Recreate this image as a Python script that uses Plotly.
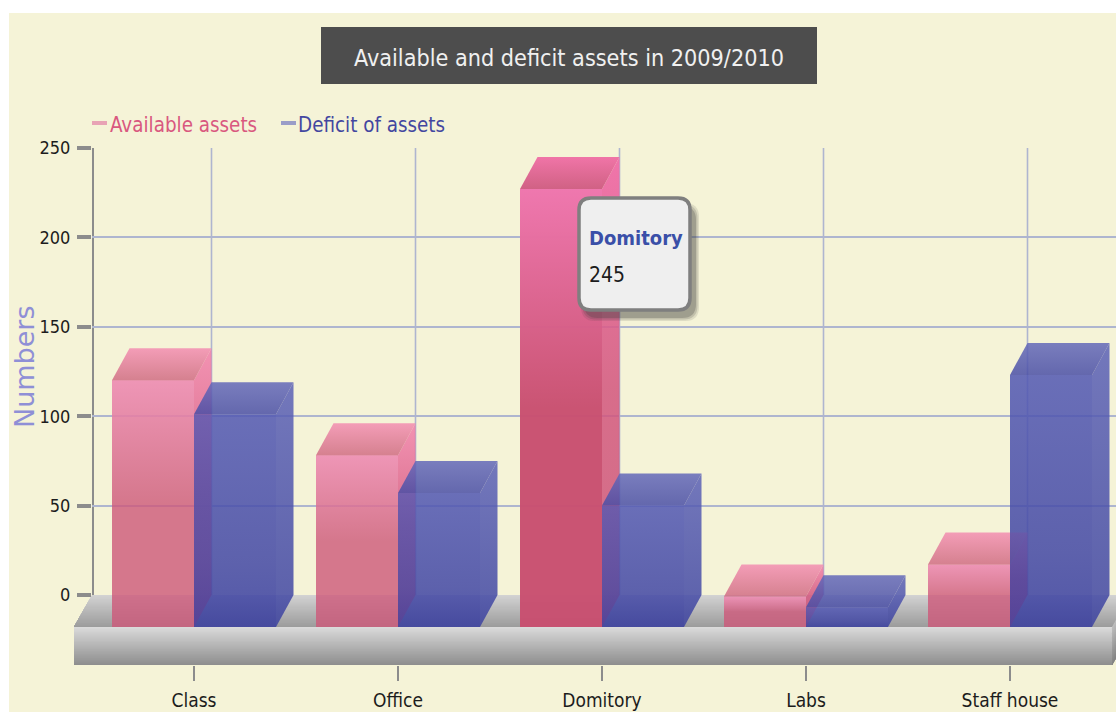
import plotly.graph_objects as go

categories = ["Class", "Office", "Domitory", "Labs", "Staff house"]
available = [138, 96, 245, 17, 35]
deficit = [119, 75, 68, 11, 141]
y_ticks = [0, 50, 100, 150, 200, 250]
TITLE = "Available and deficit assets in 2009/2010"
NARROW = "DejaVu Sans Condensed"

# layout geometry
W, H = 1116, 712
L, R, T, B = 92, 1116, 148, 665          # plot box in page pixels
XR = [-0.5, (1116 - 194) / 204]
YR = [-39.15, 250]
BW = 82 / 204
DX = 17.5 / 204
DY = 32 / 1.788

def fx(x):
    return (x - XR[0]) / (XR[1] - XR[0])
def fy(y):
    return (y - YR[0]) / (YR[1] - YR[0])
def px(p):
    return (p - L) / (R - L)
def py(p):
    return (B - p) / (B - T)

shapes = []
# page background
shapes.append(dict(type="rect", xref="paper", yref="paper", layer="below",
                   x0=px(9), x1=px(1130), y0=py(13), y1=py(730),
                   fillcolor="#f5f3d7", line_width=0))
# title box
shapes.append(dict(type="rect", xref="paper", yref="paper", layer="below",
                   x0=px(321), x1=px(817), y0=py(27), y1=py(84),
                   fillcolor="#4d4d4d", line_width=0))
# legend swatches
shapes.append(dict(type="line", xref="paper", yref="paper", layer="below",
                   x0=px(92), x1=px(107), y0=py(123), y1=py(123),
                   line=dict(color="#e8a3b5", width=4)))
shapes.append(dict(type="line", xref="paper", yref="paper", layer="below",
                   x0=px(281), x1=px(296), y0=py(123), y1=py(123),
                   line=dict(color="#9a9dc8", width=4)))

# floor drawn as overlapping gradient strips, back to front
def mix(a, b, t):
    return "rgb(%d,%d,%d)" % tuple(a[i] + (b[i] - a[i]) * t for i in range(3))
LEFT_F, RIGHT_F = (74 - 194) / 204, (1112 - 194) / 204
N = 30
for i in range(N):
    t0 = i / N
    y0 = -DY * t0
    xl0 = XR[0] + (LEFT_F - XR[0]) * t0
    xr0 = RIGHT_F + DX * (1 - t0)
    path = f"M{fx(xl0)},{fy(y0)} L{fx(xr0)},{fy(y0)} L{fx(RIGHT_F)},{fy(-DY)} L{fx(LEFT_F)},{fy(-DY)} Z"
    shapes.append(dict(type="path", xref="paper", yref="paper", layer="below", path=path,
                       fillcolor=mix((210, 210, 210), (155, 155, 155), t0), line_width=0))
for i in range(N):
    t0 = i / N
    ya = -DY + (YR[0] + DY) * t0
    yb = YR[0]
    shapes.append(dict(type="rect", xref="paper", yref="paper", layer="below",
                       x0=fx(LEFT_F), x1=fx(RIGHT_F), y0=fy(ya), y1=fy(yb),
                       fillcolor=mix((218, 218, 218), (140, 140, 140), t0), line_width=0))
    path = f"M{fx(RIGHT_F)},{fy(ya)} L{fx(RIGHT_F + DX)},{fy(ya + DY)} L{fx(RIGHT_F + DX)},{fy(yb + DY)} L{fx(RIGHT_F)},{fy(yb)} Z"
    shapes.append(dict(type="path", xref="paper", yref="paper", layer="below", path=path,
                       fillcolor=mix((190, 190, 190), (130, 130, 130), t0), line_width=0))

# back-wall vertical grid lines and the value-axis spine
for i in range(len(categories)):
    shapes.append(dict(type="line", xref="x", yref="y", layer="below",
                       x0=i + DX, x1=i + DX, y0=0, y1=y_ticks[-1],
                       line=dict(color="#aeb5cf", width=1.6)))
shapes.append(dict(type="line", xref="x", yref="y", layer="below",
                   x0=XR[0], x1=XR[0], y0=0, y1=y_ticks[-1],
                   line=dict(color="#8c8c8c", width=4)))

# tooltip
def rounded(x0, y0, x1, y1, r):
    return (f"M{px(x0 + r)},{py(y0)} L{px(x1 - r)},{py(y0)} Q{px(x1)},{py(y0)} {px(x1)},{py(y0 + r)} "
            f"L{px(x1)},{py(y1 - r)} Q{px(x1)},{py(y1)} {px(x1 - r)},{py(y1)} "
            f"L{px(x0 + r)},{py(y1)} Q{px(x0)},{py(y1)} {px(x0)},{py(y1 - r)} "
            f"L{px(x0)},{py(y0 + r)} Q{px(x0)},{py(y0)} {px(x0 + r)},{py(y0)} Z")
for grow, alpha in ((3, 0.12), (1.5, 0.18), (0, 0.25)):
    shapes.append(dict(type="path", xref="paper", yref="paper", layer="above",
                       path=rounded(584 - grow, 206 - grow, 696 + grow, 318 + grow, 14),
                       fillcolor=f"rgba(60,60,60,{alpha})", line_width=0))
shapes.append(dict(type="path", xref="paper", yref="paper", layer="above",
                   path=rounded(579, 198, 690, 310, 12), fillcolor="#efefef",
                   line=dict(color="#7f7f7f", width=3.5)))

fig = go.Figure()

# front faces
fig.add_trace(go.Bar(x=list(range(5)), y=available, base=-DY, width=BW, offset=-BW, showlegend=False,
                     marker=dict(color=["rgba(205,87,121,0.80)"] * 2 + ["rgba(200,78,112,0.97)"] + ["rgba(205,87,121,0.80)"] * 2,
                                 line_width=0), hoverinfo="skip"))
fig.add_trace(go.Bar(x=list(range(5)), y=deficit, base=-DY, width=BW, offset=0, showlegend=False,
                     marker=dict(color="rgba(66,72,165,0.35)", line_width=0), hoverinfo="skip"))

def poly(xs, ys, scale):
    fig.add_trace(go.Scatter(x=xs + xs[:1], y=ys + ys[:1], mode="lines", line_width=0, fill="toself",
                             fillcolor="rgba(0,0,0,0)",
                             fillgradient=dict(type="vertical", colorscale=scale),
                             showlegend=False, hoverinfo="skip"))

def scale_front(rgb, a):
    c = "%d,%d,%d" % rgb
    return [[0, f"rgba({c},0)"], [0.5, f"rgba({c},0)"], [1, f"rgba({c},{a})"]]

def draw(values, start, pink):
    for i, v in enumerate(values):
        x0 = i + start
        x1 = x0 + BW
        hot = pink and i == 2
        if pink:
            front = scale_front((255, 135, 200), 0.7) if hot else scale_front((255, 170, 210), 0.6)
            side = [[0, "rgba(205,87,121,0.85)"], [0.5, "rgba(210,85,125,0.85)"],
                    [1, "rgba(240,110,168,0.95)" if hot else "rgba(242,125,170,0.82)"]]
            top = [[0, "rgba(205,85,125,0.92)" if hot else "rgba(205,100,125,0.80)"],
                   [1, "rgba(240,110,165,0.95)" if hot else "rgba(243,135,175,0.80)"]]
        else:
            front = [[0, "rgba(55,60,158,0.78)"], [0.3, "rgba(68,73,165,0.78)"],
                     [1, "rgba(84,90,180,0.78)"]]
            side = [[0, "rgba(60,66,160,0.84)"], [1, "rgba(90,96,182,0.84)"]]
            top = [[0, "rgba(72,77,165,0.84)"], [1, "rgba(98,103,185,0.84)"]]
        # gradient over the front face
        poly([x0, x1, x1, x0], [-DY, -DY, v - DY, v - DY], front)
        # side face
        poly([x1, x1 + DX, x1 + DX, x1], [-DY, 0, v, v - DY], side)
        # top face
        poly([x0, x1, x1 + DX, x0 + DX], [v - DY, v - DY, v, v], top)

draw(available, -BW, True)
draw(deficit, 0, False)

# legend entries (their dashes are the short swatches drawn above)
fig.add_trace(go.Scatter(x=[None], y=[None], mode="markers",
                         name='<span style="color:#d9587f">Available assets</span>',
                         marker=dict(symbol="line-ew", size=1, color="rgba(0,0,0,0)",
                                     line=dict(color="rgba(0,0,0,0)", width=1))))
fig.add_trace(go.Scatter(x=[None], y=[None], mode="markers",
                         name='<span style="color:#4347a0">Deficit of assets</span>',
                         marker=dict(symbol="line-ew", size=1, color="rgba(0,0,0,0)",
                                     line=dict(color="rgba(0,0,0,0)", width=1))))

fig.update_layout(
    width=W, height=H, barmode="overlay",
    margin=dict(l=L, r=W - R, t=T, b=H - B, pad=0, autoexpand=False),
    paper_bgcolor="white", plot_bgcolor="rgba(0,0,0,0)",
    font=dict(family=NARROW, size=19, color="#1c1c1c"),
    title=dict(text=TITLE, x=569 / W, xref="container", xanchor="center",
               y=1 - 58 / H, yref="container", yanchor="middle", automargin=False,
               font=dict(family=NARROW, size=23.2, color="#f0f0f0")),
    legend=dict(orientation="h", x=px(70), xanchor="left", y=py(124), yanchor="middle",
                bgcolor="rgba(0,0,0,0)", font=dict(family=NARROW, size=20.4),
                itemwidth=30, entrywidth=143, entrywidthmode="pixels"),
    xaxis=dict(range=XR, tickvals=list(range(5)), ticktext=categories, showgrid=False, zeroline=False,
               automargin=False, ticks="outside", ticklen=15, tickwidth=2, tickcolor="#8c8c8c", showline=False,
               ticklabelstandoff=3, tickfont=dict(family=NARROW, size=19)),
    yaxis=dict(range=YR, tickvals=y_ticks, showgrid=True, gridcolor="#aeb5cf", gridwidth=2,
               automargin=False, zeroline=True, zerolinecolor="rgba(0,0,0,0)", showline=False,
               ticks="outside", ticklen=14, tickwidth=4, tickcolor="#8c8c8c", ticklabelstandoff=3,
               tickfont=dict(family=NARROW, size=18)),
    shapes=shapes,
    annotations=[
        dict(xref="paper", yref="paper", x=px(24), y=py(367), textangle=-90, showarrow=False,
             xanchor="center", yanchor="middle", text="Numbers",
             font=dict(family="DejaVu Sans", size=27, color="#8f8fd6")),
        dict(xref="paper", yref="paper", x=px(587), y=py(238), xanchor="left", yanchor="middle",
             showarrow=False, text='<b>Domitory</b>',
             font=dict(family=NARROW, size=20, color="#3a4fa8")),
        dict(xref="paper", yref="paper", x=px(587), y=py(275), xanchor="left", yanchor="middle",
             showarrow=False, text='245', font=dict(family=NARROW, size=21, color="#1c1c1c")),
    ],
)
fig.write_html("out.html", config={"displayModeBar": False},
               post_script="document.body.style.margin='0';document.documentElement.style.overflow='hidden';")
